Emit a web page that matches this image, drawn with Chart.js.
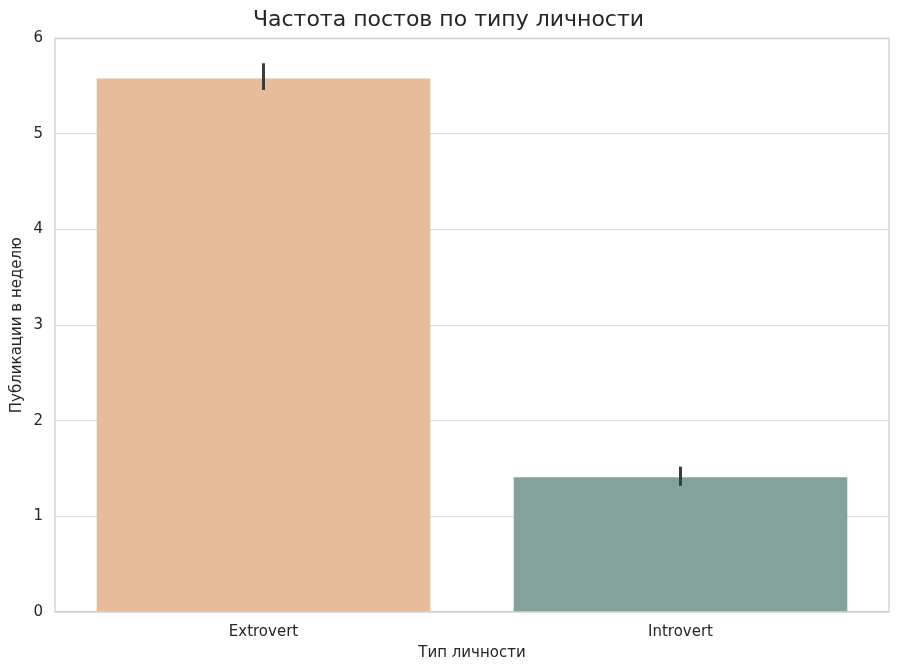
<!DOCTYPE html>
<html>
<head>
<meta charset="utf-8">
<script src="https://cdn.jsdelivr.net/npm/chart.js@4/dist/chart.umd.min.js"></script>
<style>
  html, body { margin: 0; padding: 0; background: #fff; }
  #wrap { width: 900px; height: 672px; }
</style>
</head>
<body>
<div id="wrap"><canvas id="c" width="900" height="672"></canvas></div>
<script>
const categories = ['Extrovert', 'Introvert']
const postsPerWeek = [5.58, 1.41]
const errLow = [5.46, 1.32]
const errHigh = [5.74, 1.52]
const yTicks = [0, 1, 2, 3, 4, 5, 6]
const barColors = ['#E8BC98', '#82A29B']

const fontFamily = '"DejaVu Sans", sans-serif'

// error bars + full frame around the plot
const extras = {
    id: 'extras',
    afterDatasetsDraw(chart) {
        const ctx = chart.ctx
        const y = chart.scales.y
        const meta = chart.getDatasetMeta(0)
        ctx.save()
        ctx.strokeStyle = '#3b3b3b'
        ctx.lineWidth = 3
        ctx.lineCap = 'butt'
        meta.data.forEach((bar, i) => {
            ctx.beginPath()
            ctx.moveTo(bar.x, y.getPixelForValue(errLow[i]))
            ctx.lineTo(bar.x, y.getPixelForValue(errHigh[i]))
            ctx.stroke()
        })
        const a = chart.chartArea
        ctx.strokeStyle = '#cccccc'
        ctx.lineWidth = 1.25
        ctx.strokeRect(a.left, a.top, a.right - a.left, a.bottom - a.top)
        ctx.restore()
    }
}

new Chart(document.getElementById('c'), {
    type: 'bar',
    data: {
        labels: categories,
        datasets: [{
            data: postsPerWeek,
            backgroundColor: barColors,
            borderWidth: 0,
            categoryPercentage: 0.8,
            barPercentage: 1.0
        }]
    },
    plugins: [extras],
    options: {
        responsive: false,
        animation: false,
        layout: { padding: { top: 0, right: 11, left: 8, bottom: 10 } },
        plugins: {
            legend: { display: false },
            tooltip: { enabled: false },
            title: {
                display: true,
                text: 'Частота постов по типу личности',
                color: '#262626',
                font: { family: fontFamily, size: 22, weight: 'normal' },
                padding: { top: 7, bottom: 5 }
            }
        },
        scales: {
            x: {
                afterFit(axis) { axis.height = 50 },
                grid: { display: false },
                border: { display: false },
                ticks: { color: '#262626', font: { family: fontFamily, size: 15 }, padding: 3 },
                title: {
                    display: true,
                    text: 'Тип личности',
                    color: '#262626',
                    font: { family: fontFamily, size: 15 },
                    padding: { top: 3, bottom: 0 }
                }
            },
            y: {
                min: 0,
                max: 6,
                afterFit(axis) { axis.width = 47 },
                afterBuildTicks(axis) { axis.ticks = yTicks.map(v => ({ value: v })) },
                grid: { color: '#dddddd', lineWidth: 1.25, drawTicks: false },
                border: { display: false },
                ticks: { color: '#262626', font: { family: fontFamily, size: 15 }, padding: 12 },
                title: {
                    display: true,
                    text: 'Публикации в неделю',
                    color: '#262626',
                    font: { family: fontFamily, size: 15 },
                    padding: { top: 0, bottom: 0 }
                }
            }
        }
    }
})
</script>
</body>
</html>
